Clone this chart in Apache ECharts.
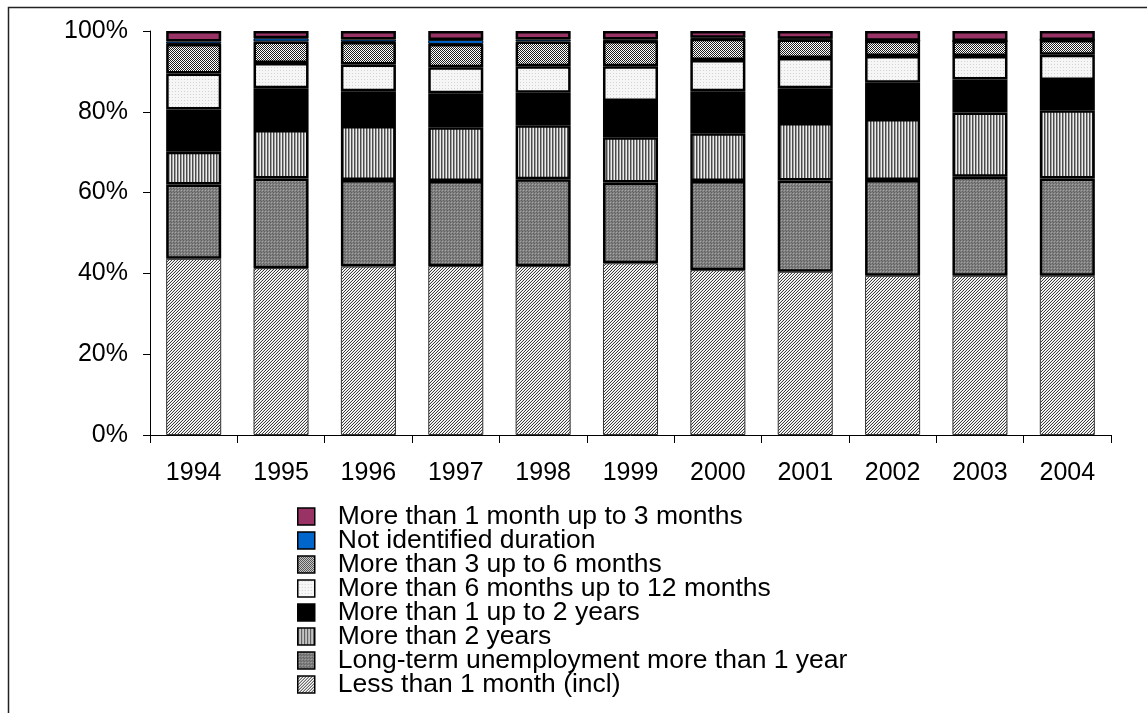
<!DOCTYPE html>
<html>
<head>
<meta charset="utf-8">
<script src="https://cdn.jsdelivr.net/npm/echarts@6/dist/echarts.min.js"></script>
<style>
  html, body { margin: 0; padding: 0; background: #fff; }
  #chart { width: 1147px; height: 713px; }
</style>
</head>
<body>
<div id="chart"></div>
<script>
// Unemployment by duration, share of total (%), 1994-2004
const years = ['1994', '1995', '1996', '1997', '1998', '1999', '2000', '2001', '2002', '2003', '2004'];
const yTicks = [0, 20, 40, 60, 80, 100];

const lessThan1Month    = [43.6, 41.3, 41.7, 41.8, 41.8, 42.5, 40.8, 40.4, 39.4, 39.4, 39.4];
const longTerm          = [18.4, 22.2, 21.4, 21.1, 21.5, 20.0, 22.1, 22.6, 23.7, 24.5, 24.1];
const moreThan2Years    = [8.1, 12.0, 13.4, 13.3, 13.4, 11.2, 11.8, 14.2, 15.1, 15.9, 16.9];
const oneToTwoYears     = [10.5, 10.3, 8.6, 8.4, 8.0, 9.0, 10.4, 8.6, 9.0, 8.2, 7.5];
const sixToTwelveMonths = [8.9, 6.3, 6.6, 6.4, 6.6, 8.6, 7.7, 7.5, 6.6, 5.8, 6.2];
const threeToSixMonths  = [7.3, 5.3, 5.6, 5.8, 6.1, 6.2, 5.3, 4.6, 3.8, 3.7, 3.7];
const notIdentified     = [0.6, 0.8, 0.6, 1.0, 0.5, 0.4, 0.2, 0.2, 0, 0, 0];
const oneToThreeMonths  = [2.6, 1.8, 2.1, 2.2, 2.1, 2.1, 1.7, 1.9, 2.4, 2.5, 2.2];

// Small tiled canvases used as monochrome fill patterns
function makePattern(w, h, draw) {
  const c = document.createElement('canvas');
  c.width = w; c.height = h;
  const ctx = c.getContext('2d');
  draw(ctx);
  return { image: c, repeat: 'repeat' };
}
function px(ctx, color, pts) {
  ctx.fillStyle = color;
  pts.forEach(p => ctx.fillRect(p[0], p[1], 1, 1));
}

// fine "/" hatch, light grey overall
const diagHatch = makePattern(3, 3, ctx => {
  ctx.fillStyle = '#e4e4e4'; ctx.fillRect(0, 0, 3, 3);
  px(ctx, '#3c3c3c', [[0,2],[1,1],[2,0]]);
  px(ctx, '#ffffff', [[0,0],[1,2],[2,1]]);
});
// mid grey with a tiny dot grid
const grayDots = makePattern(3, 3, ctx => {
  ctx.fillStyle = '#808080'; ctx.fillRect(0, 0, 3, 3);
  px(ctx, '#a6a6a6', [[1,1]]);
  px(ctx, '#606060', [[0,0],[2,2]]);
});
// narrow vertical stripes
const verticalStripes = makePattern(3, 2, ctx => {
  ctx.fillStyle = '#4c4c4c'; ctx.fillRect(0, 0, 1, 2);
  ctx.fillStyle = '#a0a0a0'; ctx.fillRect(1, 0, 1, 2);
  ctx.fillStyle = '#ececec'; ctx.fillRect(2, 0, 1, 2);
});
// near-white with faint dots
const lightDots = makePattern(3, 3, ctx => {
  ctx.fillStyle = '#f6f6f6'; ctx.fillRect(0, 0, 3, 3);
  px(ctx, '#d4d4d4', [[1,1]]);
});
// dense checker texture
const checker = makePattern(4, 4, ctx => {
  ctx.fillStyle = '#ffffff'; ctx.fillRect(0, 0, 4, 4);
  px(ctx, '#1e1e1e', [[0,0],[1,1],[2,2],[3,3],[2,0],[3,1],[0,2],[1,3]]);
});

const FONT = 'Arial, "Liberation Sans", sans-serif';

function layer(name, data, fill, borderW, borderC) {
  return {
    name: name,
    type: 'bar',
    stack: 'total',
    barWidth: '63%',
    data: data,
    itemStyle: { color: fill, borderColor: borderC || '#000', borderWidth: borderW },
    emphasis: { disabled: true }
  };
}

const chart = echarts.init(document.getElementById('chart'), null, { renderer: 'canvas' });

chart.setOption({
  animation: false,
  backgroundColor: '#fff',
  graphic: [{
    type: 'rect',
    shape: { x: 8.5, y: 7.5, width: 1300, height: 900 },
    style: { fill: 'none', stroke: '#222', lineWidth: 1.5 },
    silent: true
  }],
  grid: { left: 150, right: 36, top: 31, bottom: 278, containLabel: false },
  legend: {
    orient: 'vertical',
    left: 292,
    top: 498,
    height: 300,
    padding: 5,
    icon: 'rect',
    itemWidth: 17,
    itemHeight: 17,
    itemGap: -3,
    selectedMode: false,
    itemStyle: { borderColor: '#000', borderWidth: 1.5 },
    textStyle: { fontFamily: FONT, fontSize: 26.5, color: '#000', padding: [0, 0, 0, 18] },
    data: [
      'More than 1 month up to 3 months',
      'Not identified duration',
      'More than 3 up to 6 months',
      'More than 6 months up to 12 months',
      'More than 1 up to 2 years',
      'More than 2 years',
      'Long-term unemployment more than 1 year',
      'Less than 1 month (incl)'
    ]
  },
  xAxis: {
    type: 'category',
    data: years,
    boundaryGap: true,
    axisLine: { show: true, lineStyle: { color: '#000', width: 1 } },
    axisTick: { show: true, alignWithLabel: false, length: 8, inside: false, lineStyle: { color: '#000' } },
    axisLabel: { fontFamily: FONT, fontSize: 25, color: '#000', margin: 26 },
    splitLine: { show: false }
  },
  yAxis: {
    type: 'value',
    min: 0,
    max: 100,
    interval: 20,
    axisLine: { show: true, lineStyle: { color: '#000', width: 1 } },
    axisTick: { show: true, length: 7, lineStyle: { color: '#000' } },
    axisLabel: {
      fontFamily: FONT, fontSize: 25, color: '#000', margin: 22,
      formatter: v => (yTicks.indexOf(v) >= 0 ? v + '%' : '')
    },
    splitLine: { show: false }
  },
  series: [
    layer('Less than 1 month (incl)', lessThan1Month, diagHatch, 1, '#333'),
    layer('Long-term unemployment more than 1 year', longTerm, grayDots, 2.5),
    layer('More than 2 years', moreThan2Years, verticalStripes, 2.5),
    layer('More than 1 up to 2 years', oneToTwoYears, '#000000', 2.5),
    layer('More than 6 months up to 12 months', sixToTwelveMonths, lightDots, 2.5),
    layer('More than 3 up to 6 months', threeToSixMonths, checker, 2.5),
    layer('Not identified duration', notIdentified, '#0066cc', 1),
    layer('More than 1 month up to 3 months', oneToThreeMonths, '#993366', 2.5)
  ]
});
</script>
</body>
</html>
